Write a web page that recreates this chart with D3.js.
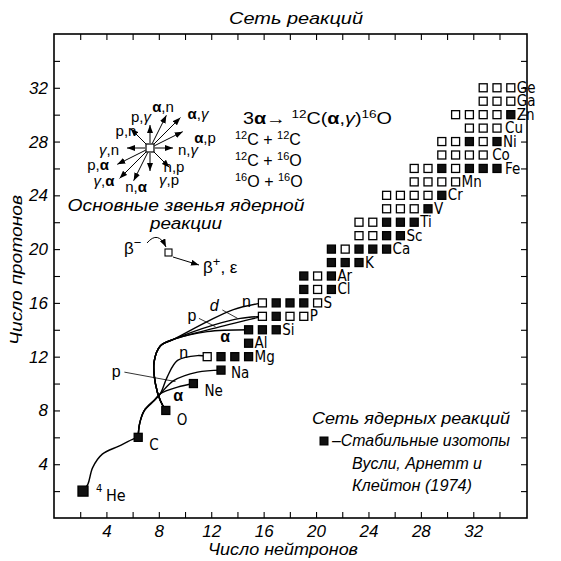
<!DOCTYPE html>
<html>
<head>
<meta charset="utf-8">
<script src="https://cdn.jsdelivr.net/npm/d3@7"></script>
<style>
  body { margin: 0; background: #fff; }
  svg { display: block; }
  text { font-family: "Liberation Sans", Arial, sans-serif; fill: #000; }
  .it { font-style: italic; }
  .el { font-family: "Liberation Sans Narrow", "DejaVu Sans Condensed", "Liberation Sans", sans-serif; font-stretch: condensed; }
</style>
</head>
<body>
<div id="chart"></div>
<script>
// ---- data ----
const xTicks = d3.range(2, 35, 2);
const yTicks = d3.range(2, 35, 2);
const tickLabels = [4, 8, 12, 16, 20, 24, 28, 32];

const elements = ["He","C","O","Ne","Na","Mg","Al","Si","P","S","Cl","Ar","K","Ca","Sc","Ti","V","Cr","Mn","Fe","Co","Ni","Cu","Zn","Ga","Ge"];
const protons  = [2, 6, 8, 10, 11, 12, 13, 14, 15, 16, 17, 18, 19, 20, 21, 22, 23, 24, 25, 26, 27, 28, 29, 30, 31, 32];
// neutron number of the first drawn square of each row, as placed in the picture
const firstN   = [2, 6, 8, 10, 12, 11, 14, 14, 15, 15, 18, 18, 20, 20, 22, 22, 24, 24, 26, 26, 28, 28, 30, 29, 31, 31];
// one char per square from firstN: 1 = stable (filled), 0 = open
const stable   = ["1","1","1","1","1","0111","1","111","0100","01110","101","101","111","10111","0011","00111","0001","00001","0000","0010111","0000","00101","000","00001","000","000"];

// flow lines, [N, Z]
const heToC  = [[2,2],[2.35,2.5],[2.7,3.75],[3.4,4.75],[4.6,5.35],[5.7,5.9],[6,6]];
const cTrunk = [[6,6],[6.1,7.0],[6.45,8.0],[7.15,8.74],[7.6,9.24]];
const cBranches = {
  n:     [[8.1,10.48],[8.85,11.72],[10.3,12.08],[11,12]],
  p:     [[8.6,10.23],[10.3,10.85],[12,11]],
  alpha: [[8.85,9.73],[10,10]]
};
const oTrunk = [[8,8],[7.6,8.74],[7.25,9.98],[7.15,11.6],[7.6,12.8],[8.6,13.3]];
const oBranches = {
  n:     [[11,14.6],[12.9,15.5],[15,16]],
  d:     [[11.5,14.36],[13.4,14.85],[15,15]],
  p:     [[11.7,14.16],[13.5,14.62],[15,15]],
  alpha: [[11,13.86],[14,14]]
};

const reactions = ["α,n","α,γ","α,p","n,γ","n,p","γ,p","n,α","γ,α","p,α","γ,n","p,n","p,γ"];
const reactDN   = [1, 2, 2, 1, 1, 0, -1, -2, -2, -1, -1, 0];
const reactDZ   = [2, 2, 1, 0, -1, -1, -2, -2, -1, 0, 1, 1];
// label offsets from the centre nucleus, px
const reactLabelOff = [[13,-41],[48,-34],[55,-10],[38,2],[24,19],[19,32],[-14,39],[-46,33],[-52,17],[-41,2],[-24,-17],[-9,-31]];

// ---- drawing ----
const W = 561, H = 561;
const svg = d3.select('#chart').append('svg').attr('width', W).attr('height', H);

// axis scales
const x = d3.scaleLinear().domain([0, 36.1]).range([54, 527]);
const y = d3.scaleLinear().domain([0, 36]).range([518, 34]);
// the nucleus grid in the figure is drawn a little wider than the axis
const xN = d3.scaleLinear().domain([2, 32]).range([83, 497]);

svg.append('defs').append('marker')
  .attr('id', 'ah').attr('viewBox', '0 0 8 6')
  .attr('refX', 8).attr('refY', 3)
  .attr('markerWidth', 8).attr('markerHeight', 6)
  .attr('markerUnits', 'userSpaceOnUse').attr('orient', 'auto')
  .append('path').attr('d', 'M0,0L8,3L0,6Z').attr('fill', '#000');

// axes, ticks inward
const fmt = d => tickLabels.includes(d) ? d : '';
function styleAxis(g) {
  g.select('.domain').remove();
  g.selectAll('line').attr('stroke', '#000').attr('stroke-width', 1.1);
  g.selectAll('text').attr('class', 'it').style('font-size', '17px').attr('fill', '#000');
}
svg.append('g').attr('transform', 'translate(0,518)')
  .call(d3.axisBottom(x).tickValues(xTicks).tickSize(-6).tickPadding(7).tickFormat(fmt))
  .call(styleAxis);
svg.append('g').attr('transform', 'translate(0,34)')
  .call(d3.axisTop(x).tickValues(xTicks).tickSize(-6).tickFormat(''))
  .call(styleAxis);
svg.append('g').attr('transform', 'translate(54,0)')
  .call(d3.axisLeft(y).tickValues(yTicks).tickSize(-6).tickPadding(6).tickFormat(fmt))
  .call(styleAxis);
svg.append('g').attr('transform', 'translate(527,0)')
  .call(d3.axisRight(y).tickValues(yTicks).tickSize(-6).tickFormat(''))
  .call(styleAxis);

svg.append('rect')
  .attr('x', x(0)).attr('y', y(36))
  .attr('width', x(36.1) - x(0)).attr('height', y(0) - y(36))
  .attr('fill', 'none').attr('stroke', '#000').attr('stroke-width', 1.6);

// titles
svg.append('text').attr('class', 'it').attr('x', 296).attr('y', 24)
  .attr('text-anchor', 'middle').style('font-size', '17px')
  .attr('textLength', 134).attr('lengthAdjust', 'spacingAndGlyphs')
  .text('Сеть реакций');
svg.append('text').attr('class', 'it').attr('x', 283).attr('y', 555)
  .attr('text-anchor', 'middle').style('font-size', '17px')
  .attr('textLength', 150).attr('lengthAdjust', 'spacingAndGlyphs')
  .text('Число нейтронов');
svg.append('text').attr('class', 'it')
  .attr('transform', 'translate(22,270) rotate(-90)')
  .attr('text-anchor', 'middle').style('font-size', '17px')
  .attr('textLength', 150).attr('lengthAdjust', 'spacingAndGlyphs')
  .text('Число протонов');

// flow lines
const line = d3.line().x(d => xN(d[0])).y(d => y(d[1])).curve(d3.curveCatmullRom.alpha(0.5));
const flows = [heToC]
  .concat(Object.values(cBranches).map(b => cTrunk.concat(b)))
  .concat(Object.values(oBranches).map(b => oTrunk.concat(b)));
svg.append('g').selectAll('path').data(flows).join('path')
  .attr('d', line).attr('fill', 'none').attr('stroke', '#000').attr('stroke-width', 1.4);

// nuclei
const nuclei = [];
elements.forEach((el, i) => {
  stable[i].split('').forEach((s, k) => {
    nuclei.push({ el, z: protons[i], n: firstN[i] + k, st: s === '1' });
  });
});
svg.append('g').selectAll('rect').data(nuclei).join('rect')
  .attr('x', d => xN(d.n) - (d.el === 'He' ? 5 : 4))
  .attr('y', d => y(d.z) - (d.el === 'He' ? 5 : 4))
  .attr('width', d => d.el === 'He' ? 10 : 8)
  .attr('height', d => d.el === 'He' ? 10 : 8)
  .attr('fill', d => d.st ? '#111' : '#fff')
  .attr('stroke', '#000').attr('stroke-width', 1.3);

// element labels
const labelShift = { He: [23, 10], C: [11, 13], O: [11, 15], Ne: [11, 12], Na: [10, 8], Co: [9, 5], Cu: [8, 5], Fe: [8, 6] };
const elG = svg.append('g');
elements.forEach((el, i) => {
  const lastN = firstN[i] + stable[i].length - 1;
  const sh = labelShift[el] || [6, 5];
  elG.append('text').attr('class', 'el')
    .attr('x', xN(lastN) + sh[0]).attr('y', y(protons[i]) + sh[1])
    .style('font-size', el === 'He' ? '16px' : '15px').text(el);
  if (el === 'He') {
    elG.append('text').attr('class', 'el')
      .attr('x', xN(lastN) + 13).attr('y', y(protons[i]) + 1)
      .style('font-size', '11px').text('4');
  }
});

// branch labels (positions in nucleus-grid units)
const bl = svg.append('g').style('font-size', '16px');
[[9.3, 12.3, 'n'], [4.4, 10.85, 'p'], [8.9, 9.1, 'α'],
 [13.85, 16.1, 'n'], [11.5, 15.8, 'd'], [9.9, 15.0, 'p'], [12.3, 13.44, 'α']].forEach(d => {
  bl.append('text').attr('x', xN(d[0])).attr('y', y(d[1]) + 5).attr('text-anchor', 'middle')
    .attr('class', d[2] === 'd' ? 'it' : null)
    .style('font-weight', d[2] === 'α' ? 'bold' : null).text(d[2]);
});
[[[5.0, 10.85], [8.7, 10.15]], [[12.1, 15.47], [13.2, 14.85]], [[10.4, 14.85], [11.6, 14.23]]].forEach(p => {
  bl.append('line').attr('x1', xN(p[0][0])).attr('y1', y(p[0][1]))
    .attr('x2', xN(p[1][0])).attr('y2', y(p[1][1]))
    .attr('stroke', '#000').attr('stroke-width', 0.8);
});

// reaction diagram
const cx0 = 150, cy0 = 148;
const rg = svg.append('g');
reactions.forEach((r, i) => {
  const dx = reactDN[i], dz = reactDZ[i];
  const len = Math.hypot(dx, dz);
  const L = 12 + 11 * len;
  const ux = dx / len, uy = -dz / len;
  rg.append('line')
    .attr('x1', cx0 + ux * 5).attr('y1', cy0 + uy * 5)
    .attr('x2', cx0 + ux * L).attr('y2', cy0 + uy * L)
    .attr('stroke', '#000').attr('stroke-width', 1)
    .attr('marker-end', 'url(#ah)');
  const t = rg.append('text')
    .attr('x', cx0 + reactLabelOff[i][0]).attr('y', cy0 + reactLabelOff[i][1] + 5)
    .attr('text-anchor', 'middle').style('font-size', '15px');
  r.split('').forEach(ch => {
    t.append('tspan').style('font-weight', ch === 'α' ? 'bold' : null)
      .style('font-style', ch === 'γ' ? 'italic' : null).text(ch);
  });
});
rg.append('rect').attr('x', cx0 - 4).attr('y', cy0 - 4).attr('width', 8).attr('height', 8)
  .attr('fill', '#fff').attr('stroke', '#000').attr('stroke-width', 1.2);

rg.append('text').attr('class', 'it').attr('x', 186).attr('y', 211)
  .attr('text-anchor', 'middle').style('font-size', '16px')
  .attr('textLength', 237).attr('lengthAdjust', 'spacingAndGlyphs')
  .text('Основные звенья ядерной');
rg.append('text').attr('class', 'it').attr('x', 186).attr('y', 229)
  .attr('text-anchor', 'middle').style('font-size', '16px')
  .attr('textLength', 72).attr('lengthAdjust', 'spacingAndGlyphs')
  .text('реакции');

// beta decay
rg.append('text').attr('x', 124).attr('y', 254).style('font-size', '17px')
  .html('β<tspan dy="-7" font-size="13">−</tspan>');
rg.append('path').attr('d', 'M147,243 Q158,230 166,247').attr('fill', 'none')
  .attr('stroke', '#000').attr('stroke-width', 1).attr('marker-end', 'url(#ah)');
rg.append('rect').attr('x', 165).attr('y', 249).attr('width', 7).attr('height', 7)
  .attr('fill', '#fff').attr('stroke', '#000').attr('stroke-width', 1.1);
rg.append('line').attr('x1', 173).attr('y1', 257).attr('x2', 199).attr('y2', 265)
  .attr('stroke', '#000').attr('stroke-width', 1).attr('marker-end', 'url(#ah)');
rg.append('text').attr('x', 203).attr('y', 273).style('font-size', '17px')
  .html('β<tspan dy="-7" font-size="13">+</tspan><tspan dy="7">, ε</tspan>');

// burning stages
const st = svg.append('g').style('font-size', '16px');
const sup = s => `<tspan dy="-6" font-size="11">${s}</tspan><tspan dy="6">`;
st.append('text').attr('x', 243).attr('y', 124)
  .attr('textLength', 149).attr('lengthAdjust', 'spacingAndGlyphs')
  .html(`3<tspan font-weight="bold">α</tspan>→ ${sup('12')}C(<tspan font-weight="bold">α</tspan>,<tspan font-style="italic">γ</tspan>)</tspan>${sup('16')}O</tspan>`);
st.append('text').attr('x', 235).attr('y', 145).html(`${sup('12')}C + </tspan>${sup('12')}C</tspan>`);
st.append('text').attr('x', 235).attr('y', 166).html(`${sup('12')}C + </tspan>${sup('16')}O</tspan>`);
st.append('text').attr('x', 235).attr('y', 187).html(`${sup('16')}O + </tspan>${sup('16')}O</tspan>`);

// legend
const lg = svg.append('g').attr('class', 'it').style('font-size', '16px');
lg.append('text').attr('x', 312).attr('y', 424).attr('textLength', 198).attr('lengthAdjust', 'spacingAndGlyphs').text('Сеть ядерных реакций');
lg.append('rect').attr('x', 320).attr('y', 437).attr('width', 8).attr('height', 8).attr('fill', '#111').attr('stroke', '#000');
lg.append('text').attr('x', 332).attr('y', 446).attr('textLength', 178).attr('lengthAdjust', 'spacingAndGlyphs').text('–Стабильные изотопы');
lg.append('text').attr('x', 352).attr('y', 469).attr('textLength', 130).attr('lengthAdjust', 'spacingAndGlyphs').text('Вусли, Арнетт и');
lg.append('text').attr('x', 352).attr('y', 491).attr('textLength', 120).attr('lengthAdjust', 'spacingAndGlyphs').text('Клейтон (1974)');
</script>
</body>
</html>
